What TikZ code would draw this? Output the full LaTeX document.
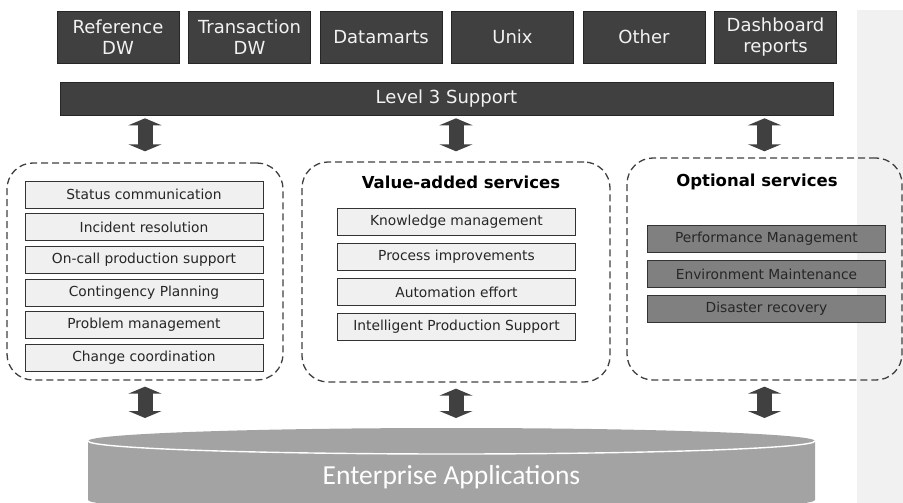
\documentclass[tikz,border=0pt]{standalone}
\usepackage{fontspec}
\setmainfont{DejaVu Sans}
\newfontfamily\carlito{Carlito}
\usetikzlibrary{arrows.meta}
\definecolor{darkbox}{HTML}{404040}
\definecolor{lightbox}{HTML}{F0F0F0}
\definecolor{midbox}{HTML}{808080}
\definecolor{cylgray}{HTML}{A3A3A3}
\definecolor{panelgray}{HTML}{F1F1F1}
\begin{document}
\begin{tikzpicture}[x=1pt,y=-1pt]
        \tikzset{
          topbox/.style={draw=black!85,line width=0.6pt,fill=darkbox,text=white!95!black,
            minimum width=122pt,minimum height=52pt,align=center,inner sep=0pt,
            font=\fontsize{18}{21}\selectfont},
          item/.style={draw=black!80,line width=0.6pt,fill=#1,text=black!85,
            minimum width=238pt,minimum height=27pt,inner sep=0pt,
            font=\fontsize{13.8}{16}\selectfont},
          group/.style={draw=black!75,line width=1.3pt,dash pattern=on 7pt off 4pt,
            rounded corners=26pt,inner sep=0pt},
          grouptitle/.style={font=\fontsize{16.5}{19}\bfseries\selectfont},
          dbl/.style={draw=darkbox,line width=15pt,
            {Triangle[length=7pt,width=33pt]}-{Triangle[length=7pt,width=33pt]}},
        }
        \useasboundingbox (0,0) rectangle (903,503);
        \clip (0,0) rectangle (903,503);
        %SIDE PANEL
        \fill[panelgray] (857,10) rectangle (903,503);
        %TOP ROW
        \foreach \name/\txt [count=\i from 0] in {ref/Reference\\DW,trans/Transaction\\DW,
            marts/Datamarts,unix/Unix,other/Other,dash/Dashboard\\reports}
          \node[topbox] (\name) at (118+131.5*\i,37) {\txt};
        \node[topbox,minimum width=773pt,minimum height=33pt] (lvl) at (446.5,98.5) {Level 3 Support};
        %GROUPS
        \node[group,minimum width=276pt,minimum height=217pt] (grpL) at (145,271.5) {};
        \node[group,minimum width=308pt,minimum height=220pt] (grpM) at (456,272) {};
        \node[group,minimum width=275pt,minimum height=222pt] (grpR) at (764.5,269) {};
        \node[grouptitle] (titM) at (461,182) {Value-added services};
        \node[grouptitle] (titR) at (757,182) {Optional services};
        \foreach \txt [count=\i from 0] in {Status communication,Incident resolution,
            On-call production support,Contingency Planning,Problem management,Change coordination}
          \node[item=lightbox] (l\i) at (144,194.5+32.6*\i) {\txt};
        \foreach \txt [count=\i from 0] in {Knowledge management,Process improvements,
            Automation effort,Intelligent Production Support}
          \node[item=lightbox] (m\i) at (456.5,222+35*\i) {\txt};
        \foreach \txt [count=\i from 0] in {Performance Management,Environment Maintenance,
            Disaster recovery}
          \node[item=midbox] (r\i) at (766.5,239+35*\i) {\txt};
        %CYLINDER
        \fill[cylgray] (88,441) -- (88,500)
          arc[start angle=180,end angle=360,x radius=363.5pt,y radius=13pt]
          -- (815,441) arc[start angle=0,end angle=180,x radius=363.5pt,y radius=13pt] -- cycle;
        \draw[white,line width=1.4pt] (88,441)
          arc[start angle=180,end angle=360,x radius=363.5pt,y radius=13pt];
        \coordinate (cyltop) at (451.5,428);
        \node[text=white,font=\carlito\fontsize{27.5}{30}\selectfont] (ent) at (451.5,477) {Enterprise Applications};
        %ARROWS
        \foreach \g in {grpL,grpM,grpR}{
          \draw[dbl] ([yshift=-3pt]lvl.south -| \g.north) -- ++(0,33);
          \draw[dbl] ([yshift=-6pt]\g.south) -- ([yshift=10pt]cyltop -| \g.south);
        }
    \end{tikzpicture}
\end{document}
